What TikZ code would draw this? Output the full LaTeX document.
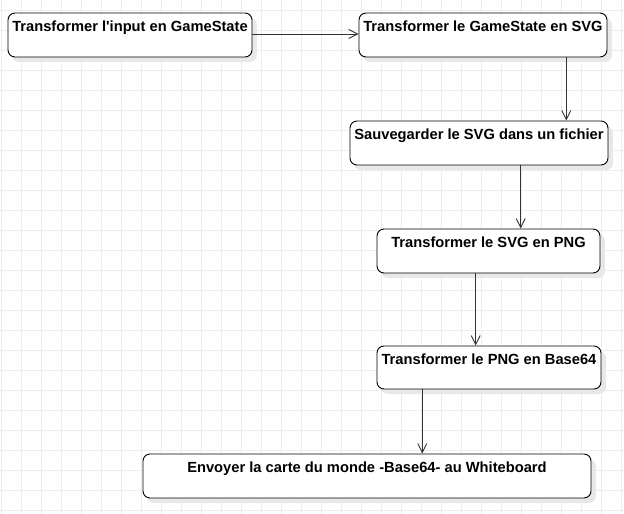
\documentclass[tikz,border=0pt]{standalone}
\usepackage{fontspec}
\setmainfont{Liberation Sans}
\usetikzlibrary{arrows.meta}
\definecolor{gridc}{HTML}{EDEDED}
\definecolor{shadowc}{HTML}{E8E8E8}
\definecolor{linec}{HTML}{333333}
\tikzset{
  box/.style={draw=black, line width=0.9pt, rounded corners=7pt, fill=white, inner sep=0pt},
  lbl/.style={anchor=base, inner sep=0pt, font=\fontsize{14.7}{16}\selectfont\bfseries},
  conn/.style={draw=linec, line width=0.9pt, -{Straight Barb[length=9pt,width=9pt,line width=0.9pt]}},
}
\newcommand{\flowbox}[6]{%
  % #1 name, #2 x1, #3 y1, #4 x2, #5 y2, #6 text
  \fill[shadowc, rounded corners=7pt] (#2+4,#3+5) rectangle (#4+5,#5+5);
  \node[box, minimum width={#4-#2}, minimum height={#5-#3}] (#1) at ({(#2+#4)/2},{(#3+#5)/2}) {};
  \node[lbl] (#1t) at ([yshift=-18.7pt]#1.north) {#6};
}
\begin{document}
\begin{tikzpicture}[x=1pt,y=-1pt]
\useasboundingbox (0,0) rectangle (624,514);
\fill[white] (0,0) rectangle (624,514);
\foreach \gx in {1.3,21.3,...,621.3} \draw[gridc, line width=0.8pt] (\gx,0) -- (\gx,514);
\foreach \gy in {10.7,30.7,...,510.7} \draw[gridc, line width=0.8pt] (0,\gy) -- (624,\gy);

\flowbox{n1}{8}{13}{252}{57}{Transformer l\textquotesingle input en GameState}
\flowbox{n2}{359}{13}{607}{57}{Transformer le GameState en SVG}
\flowbox{n3}{350}{121}{608}{165}{Sauvegarder le SVG dans un fichier}
\flowbox{n4}{377}{229}{600}{273}{Transformer le SVG en PNG}
\flowbox{n5}{377}{346}{601}{389}{Transformer le PNG en Base64}
\flowbox{n6}{143}{454}{591}{498}{Envoyer la carte du monde -Base64- au Whiteboard}

\draw[conn] (n1.east |- 0,34) -- (n2.west |- 0,34);
\draw[conn] (566.3,0 |- n2.south) -- (566.3,0 |- n3.north);
\draw[conn] (520.7,0 |- n3.south) -- (520.7,0 |- n4.north);
\draw[conn] (475.7,0 |- n4.south) -- (475.7,0 |- n5.north);
\draw[conn] (422.3,0 |- n5.south) -- (422.3,0 |- n6.north);
\end{tikzpicture}
\end{document}
